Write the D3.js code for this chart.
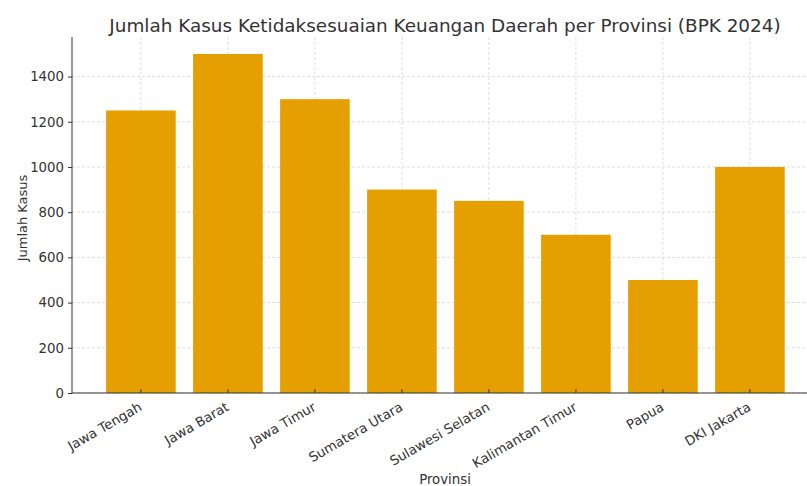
<!DOCTYPE html>
<html><head><meta charset="utf-8">
<script src="https://cdn.jsdelivr.net/npm/d3@7"></script>
<style>body{margin:0;background:#fff}text{font-family:"DejaVu Sans",sans-serif;fill:#333}</style>
</head><body><svg id="c" width="807" height="486"></svg>
<script>
const categories = ["Jawa Tengah","Jawa Barat","Jawa Timur","Sumatera Utara","Sulawesi Selatan","Kalimantan Timur","Papua","DKI Jakarta"];
const values = [1250,1500,1300,900,850,700,500,1000];
const yTicks = [0,200,400,600,800,1000,1200,1400];
const title = "Jumlah Kasus Ketidaksesuaian Keuangan Daerah per Provinsi (BPK 2024)";

const svg = d3.select("#c");
const mLeft = 72, mRight = 818, mTop = 37, mBottom = 393;
const x = d3.scaleBand().domain(categories).range([97.4, 793.4]).paddingInner(0.2).paddingOuter(0.1);
const y = d3.scaleLinear().domain([0, 1575]).range([mBottom, mTop]);

// grid
const g = svg.append("g");
g.selectAll("line.h").data(yTicks).join("line")
  .attr("x1", mLeft).attr("x2", mRight).attr("y1", d=>y(d)).attr("y2", d=>y(d))
  .attr("stroke", "#d6d6d6").attr("stroke-width", 0.8).attr("stroke-dasharray", "3,2");
g.selectAll("line.v").data(categories).join("line")
  .attr("x1", d=>x(d)+x.bandwidth()/2).attr("x2", d=>x(d)+x.bandwidth()/2).attr("y1", mTop).attr("y2", mBottom)
  .attr("stroke", "#d6d6d6").attr("stroke-width", 0.8).attr("stroke-dasharray", "3,2");

// bars
svg.append("g").selectAll("rect").data(values).join("rect")
  .attr("x", (d,i)=>x(categories[i])).attr("width", x.bandwidth())
  .attr("y", d=>y(d)).attr("height", d=>mBottom - y(d))
  .attr("fill", "#E69F00");

// y axis
const ya = svg.append("g").attr("transform", `translate(${mLeft},0)`)
  .call(d3.axisLeft(y).tickValues(yTicks).tickSize(4).tickPadding(4).tickFormat(d3.format("d")));
ya.select(".domain").attr("stroke", "#333").attr("d", `M0,${mBottom}V${mTop}`);
ya.selectAll(".tick line").attr("stroke", "#333");
ya.selectAll(".tick text").attr("font-size", 13.3).attr("font-family", "DejaVu Sans").style("fill", "#333");

// x axis
const xa = svg.append("g").attr("transform", `translate(0,${mBottom})`)
  .call(d3.axisBottom(x).tickSize(-4).tickSizeOuter(0).tickPadding(0));
xa.select(".domain").attr("stroke", "#333").attr("d", `M${mLeft},0H${mRight}`);
xa.selectAll(".tick line").attr("stroke", "#333");
xa.selectAll(".tick text").attr("font-size", 13.3).attr("font-family", "DejaVu Sans").style("fill", "#333")
  .attr("text-anchor", "end").attr("x", 0).attr("y", 0).attr("dy", "0.75em")
  .attr("transform", "translate(-3,8) rotate(-30)");

// title & labels
svg.append("text").attr("x", 445).attr("y", 31.5).attr("text-anchor", "middle")
  .attr("font-size", 18.4).text(title);
svg.append("text").attr("x", 445).attr("y", 484).attr("text-anchor", "middle")
  .attr("font-size", 13.3).text("Provinsi");
svg.append("text").attr("transform", `translate(26.5,218) rotate(-90)`).attr("text-anchor", "middle")
  .attr("font-size", 13).text("Jumlah Kasus");
</script></body></html>
